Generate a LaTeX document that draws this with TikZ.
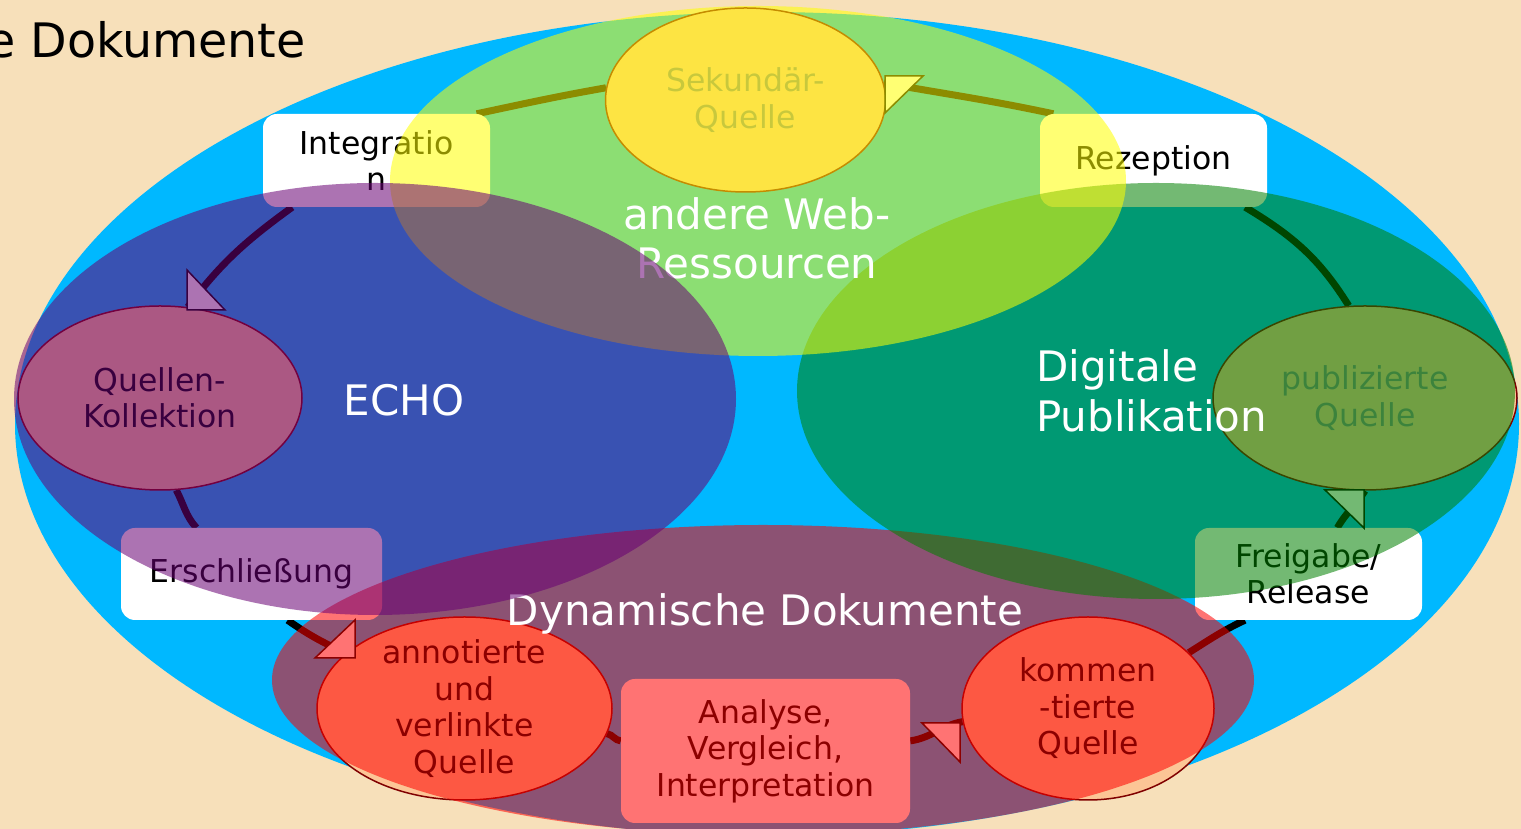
\documentclass[tikz,border=0pt]{standalone}
\usepackage{fontspec}
\setmainfont{DejaVu Sans}
\usetikzlibrary{shapes.geometric}
\definecolor{wheatbg}{RGB}{247,224,186}
\definecolor{skyblue}{RGB}{0,184,255}
\definecolor{peach}{RGB}{252,197,150}
\definecolor{darkred}{RGB}{128,0,0}
\definecolor{echopurple}{RGB}{105,0,116}
\definecolor{webyellow}{RGB}{255,255,0}
\definecolor{pubgreen}{RGB}{0,128,0}
\definecolor{dynred}{RGB}{255,0,0}
\definecolor{fadedtext}{RGB}{135,135,135}
\pgfdeclarelayer{bg}
\pgfdeclarelayer{ringl}
\pgfdeclarelayer{veil}
\pgfsetlayers{bg,ringl,main,veil}
\tikzset{
  srcnode/.style={ellipse, draw=darkred, line width=1.5pt, fill=peach, inner sep=0pt},
  srctext/.style={align=center, inner sep=0pt, text=black, font=\fontsize{31.5}{36.5}\selectfont},
  labelbox/.style={rectangle, rounded corners=14pt, fill=white, inner sep=0pt, align=center, text=black, font=\fontsize{31.5}{36.5}\selectfont},
  ring/.style={line width=7pt, draw=black},
  tiptri/.style={fill=white, draw=black, line width=1.5pt, line join=miter},
  zone/.style={ellipse, inner sep=0pt, draw=none, fill opacity=0.55},
  biglabel/.style={text=white, inner sep=0pt, font=\fontsize{42}{49}\selectfont},
}
\begin{document}
\begin{tikzpicture}[x=1pt,y=1pt]
\useasboundingbox (0,0) rectangle (1521,829);
\begin{pgfonlayer}{bg}
\fill[wheatbg] (0,0) rectangle (1521,829);
\node[ellipse, fill=skyblue, inner sep=0pt, minimum width=1504, minimum height=824] (outer) at (767,405) {};
\end{pgfonlayer}

% source ellipses
\node[srcnode, minimum width=280, minimum height=184,
  label={[srctext, text=fadedtext]center:{Sekundär-\\Quelle}}] (sek) at (745.5,729) {};
\node[srcnode, minimum width=284, minimum height=184,
  label={[srctext]center:{Quellen-\\Kollektion}}] (que) at (160,431) {};
\node[srcnode, minimum width=304, minimum height=184,
  label={[srctext, text=fadedtext]center:{publizierte\\Quelle}}] (pub) at (1365,431) {};
\node[srcnode, minimum width=295, minimum height=183,
  label={[srctext]center:{annotierte\\und\\verlinkte\\Quelle}}] (ann) at (464.5,120.5) {};
\node[srcnode, minimum width=252, minimum height=183,
  label={[srctext]center:{kommen\\-tierte\\Quelle}}] (kom) at (1088,120.5) {};

% label boxes
\node[labelbox, minimum width=227, minimum height=93] (int) at (376.5,668.5) {Integratio\\n};
\node[labelbox, minimum width=227, minimum height=93] (rez) at (1153.5,668.5) {Rezeption};
\node[labelbox, minimum width=261, minimum height=92] (ers) at (251.5,255) {Erschließung};
\node[labelbox, minimum width=227, minimum height=92] (frei) at (1308.5,255) {Freigabe/\\Release};
\node[labelbox, minimum width=289, minimum height=144] (ana) at (765.5,78) {Analyse,\\Vergleich,\\Interpretation};

% ring connectors
\begin{pgfonlayer}{ringl}
\draw[ring] (que.-80) to[out=-62,in=132] (ers.140);
\draw[ring] (ers.-52) to[out=-35,in=155] (ann.155);
\draw[ring] (ann.-10) to[out=-12,in=175] (ana.176);
\draw[ring] (ana.4) to[out=8,in=190] (kom.186);
\draw[ring] (kom.29) to[out=32,in=205] (frei.216);
\draw[ring] (frei.58) to[out=60,in=237] (pub.270);
\draw[ring] (pub.100) to[out=122,in=-31] (rez.-27);
\draw[ring] (rez.155) to[out=168,in=-10] (sek.7);
\draw[ring] (sek.175) to[out=190,in=12] (int.25);
\draw[ring] (int.209) to[out=216,in=53] (que.73);
\end{pgfonlayer}

% arrowheads
\draw[tiptri] (187,559) -- (187,519) -- (225,519) -- cycle;
\draw[tiptri] (923,753) -- (885,753) -- (885,716) -- cycle;
\draw[tiptri] (1325,339) -- (1364,339) -- (1364,301) -- cycle;
\draw[tiptri] (315,171) -- (355,171) -- (355,209) -- cycle;
\draw[tiptri] (922,106) -- (960,106) -- (960,67) -- cycle;

% translucent zones
\begin{pgfonlayer}{veil}
\node[zone, fill=dynred, minimum width=982, minimum height=310] (dynzone) at (763,149) {};
\node[biglabel, anchor=base] (dyntext) at (765,203) {Dynamische Dokumente};
\node[zone, fill=pubgreen, minimum width=718, minimum height=416] (pubzone) at (1156,438) {};
\node[biglabel, anchor=west, align=left, font=\fontsize{42}{50}\selectfont] (pubtext) at (1036,438) {Digitale\\Publikation};
\node[zone, fill=webyellow, minimum width=736, minimum height=350] (webzone) at (758,648) {};
\node[biglabel, align=center] (webtext) at (757,590.5) {andere Web-\\Ressourcen};
\node[zone, fill=echopurple, minimum width=722, minimum height=432] (echozone) at (375,430) {};
\node[biglabel, anchor=base] (echotext) at (404,413) {ECHO};
\node[anchor=base west, inner sep=0pt, text=black, font=\fontsize{47.5}{56}\selectfont] (title) at (-14,771) {e Dokumente};
\end{pgfonlayer}
\end{tikzpicture}
\end{document}
